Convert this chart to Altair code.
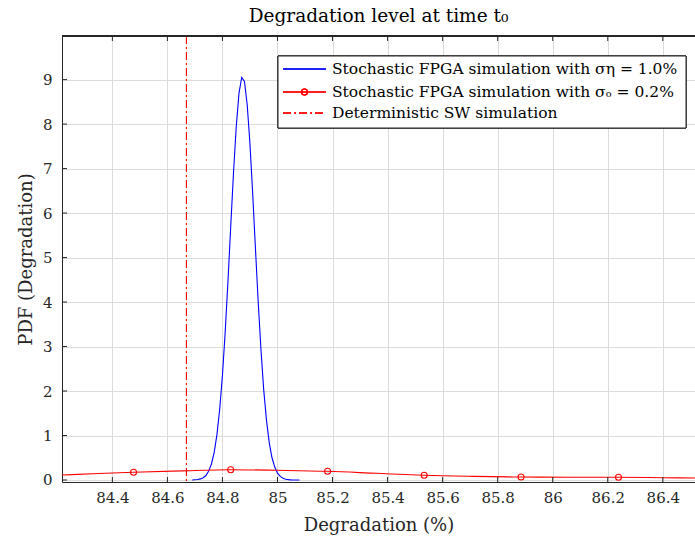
import altair as alt
import pandas as pd

FONT = "DejaVu Serif"

# ---- data ----
blue_x = [84.69, 84.70, 84.71, 84.72, 84.73, 84.74, 84.75, 84.76, 84.77, 84.78,
          84.79, 84.80, 84.81, 84.82, 84.83, 84.84, 84.85, 84.86, 84.87, 84.88,
          84.89, 84.90, 84.91, 84.92, 84.93, 84.94, 84.95, 84.96, 84.97, 84.98,
          84.99, 85.00, 85.01, 85.02, 85.03, 85.04, 85.05, 85.06, 85.08]
blue_y = [0.00, 0.005, 0.011, 0.025, 0.052, 0.10, 0.20, 0.36, 0.62, 1.02,
          1.59, 2.36, 3.33, 4.46, 5.69, 6.89, 7.93, 8.69, 9.05, 8.96,
          8.43, 7.55, 6.42, 5.19, 3.99, 2.92, 2.02, 1.34, 0.84, 0.50,
          0.29, 0.155, 0.08, 0.039, 0.018, 0.008, 0.003, 0.001, 0.0]

red_line_x = [84.217, 84.35, 84.477, 84.65, 84.83, 85.00, 85.182, 85.36, 85.533,
              85.71, 85.885, 86.06, 86.239, 86.40, 86.517]
red_line_y = [0.112, 0.145, 0.173, 0.205, 0.231, 0.218, 0.196, 0.150, 0.106,
              0.082, 0.067, 0.062, 0.061, 0.052, 0.045]

marker_x = [84.477, 84.830, 85.182, 85.533, 85.885, 86.239]
marker_y = [0.173, 0.231, 0.196, 0.106, 0.067, 0.061]

det_x = [84.669]

x_ticks = [84.4, 84.6, 84.8, 85.0, 85.2, 85.4, 85.6, 85.8, 86.0, 86.2, 86.4]
y_ticks = [0, 1, 2, 3, 4, 5, 6, 7, 8, 9]

legend_labels = [
    "Stochastic FPGA simulation with \u03c3\u03b7 = 1.0%",
    "Stochastic FPGA simulation with \u03c3\u2092 = 0.2%",
    "Deterministic SW simulation",
]

title_text = "Degradation level at time t\u2080"

# ---- layout ----
W, H = 633, 446
XDOM = [84.217, 86.517]
YDOM = [-0.045, 9.98]
AX = "#262626"

xs = alt.Scale(domain=XDOM, nice=False, zero=False)
ys = alt.Scale(domain=YDOM, nice=False, zero=False)

x_axis = alt.Axis(values=x_ticks, format="~g", ticks=False, grid=True,
                  gridColor="#dcdcdc", domainColor=AX, labelColor=AX,
                  labelFont=FONT, labelFontSize=15, labelPadding=8,
                  title="Degradation (%)", titleFont=FONT, titleFontSize=18,
                  titleFontWeight="normal", titleColor=AX, titlePadding=11)
y_axis = alt.Axis(values=y_ticks, format="~g", ticks=False, grid=True,
                  gridColor="#dcdcdc", domainColor=AX, labelColor=AX,
                  labelFont=FONT, labelFontSize=15, labelPadding=10,
                  title="PDF (Degradation)", titleFont=FONT, titleFontSize=18,
                  titleFontWeight="normal", titleColor=AX, titlePadding=7)

blue_df = pd.DataFrame({"x": blue_x, "y": blue_y})
red_df = pd.DataFrame({"x": red_line_x, "y": red_line_y})
mk_df = pd.DataFrame({"x": marker_x, "y": marker_y})
det_df = pd.DataFrame({"x": det_x})
xt_df = pd.DataFrame({"x": x_ticks})
yt_df = pd.DataFrame({"y": y_ticks})

blue = alt.Chart(blue_df).mark_line(color="#0000ff", strokeWidth=1.1).encode(
    x=alt.X("x:Q", scale=xs, axis=x_axis),
    y=alt.Y("y:Q", scale=ys, axis=y_axis),
)
red = alt.Chart(red_df).mark_line(color="#ff0000", strokeWidth=1.1,
                                  interpolate="monotone").encode(
    x=alt.X("x:Q", scale=xs), y=alt.Y("y:Q", scale=ys))
marks = alt.Chart(mk_df).mark_point(shape="circle", filled=False, color="#ff0000",
                                    size=36, strokeWidth=1.1, opacity=1).encode(
    x=alt.X("x:Q", scale=xs), y=alt.Y("y:Q", scale=ys))
det = alt.Chart(det_df).mark_rule(color="#ff0000", strokeWidth=1.1,
                                  strokeDash=[8, 3, 2, 3]).encode(
    x=alt.X("x:Q", scale=xs))

# inward MATLAB-style ticks and top border
bt = alt.Chart(xt_df).mark_rule(color=AX, strokeWidth=1).encode(
    x=alt.X("x:Q", scale=xs), y=alt.value(H), y2=alt.value(H - 5))
tt = alt.Chart(xt_df).mark_rule(color=AX, strokeWidth=1).encode(
    x=alt.X("x:Q", scale=xs), y=alt.value(0), y2=alt.value(5))
lt = alt.Chart(yt_df).mark_rule(color=AX, strokeWidth=1).encode(
    y=alt.Y("y:Q", scale=ys), x=alt.value(0), x2=alt.value(5))
top = alt.Chart(xt_df).mark_rule(color=AX, strokeWidth=1).encode(
    x=alt.value(0), x2=alt.value(W), y=alt.value(0))

# legend (box, symbols, labels)
LX0, LX1, LY0, LY1 = 216, 624, 20, 92
rows = [33, 56, 77]
sx0, sx1, tx = 221, 264, 270
leg_df = pd.DataFrame({"label": legend_labels})

box = alt.Chart(leg_df).mark_rect(fill="white", stroke=AX, strokeWidth=1).encode(
    x=alt.value(LX0), x2=alt.value(LX1), y=alt.value(LY0), y2=alt.value(LY1))
sym1 = alt.Chart(leg_df).mark_rule(color="#0000ff", strokeWidth=1.1).encode(
    x=alt.value(sx0), x2=alt.value(sx1), y=alt.value(rows[0]))
sym2 = alt.Chart(leg_df).mark_rule(color="#ff0000", strokeWidth=1.1).encode(
    x=alt.value(sx0), x2=alt.value(sx1), y=alt.value(rows[1]))
sym2c = alt.Chart(leg_df).mark_point(shape="circle", filled=False, color="#ff0000",
                                     size=36, strokeWidth=1.1, opacity=1).encode(
    x=alt.value((sx0 + sx1) / 2), y=alt.value(rows[1]))
sym3 = alt.Chart(leg_df).mark_rule(color="#ff0000", strokeWidth=1.1,
                                   strokeDash=[8, 3, 2, 3]).encode(
    x=alt.value(sx0), x2=alt.value(sx1), y=alt.value(rows[2]))
texts = []
for i, r in enumerate(rows):
    texts.append(
        alt.Chart(pd.DataFrame({"label": [legend_labels[i]]})).mark_text(
            align="left", baseline="middle", font=FONT, fontSize=15.5, color="black"
        ).encode(x=alt.value(tx), y=alt.value(r), text="label:N"))

chart = alt.layer(
    blue, red, marks, det, bt, tt, lt, top,
    box, sym1, sym2, sym2c, sym3, *texts
).properties(
    width=W, height=H,
    title=alt.TitleParams(title_text, font=FONT, fontSize=18.5, fontWeight="normal",
                          color="black", offset=10, anchor="middle"),
    autosize=alt.AutoSizeParams(type="none"),
    padding={"left": 62, "top": 36, "right": 0, "bottom": 57},
).configure_view(stroke=None).configure(background="white")

chart.save("out.html", embed_options={"renderer": "svg", "actions": False})
